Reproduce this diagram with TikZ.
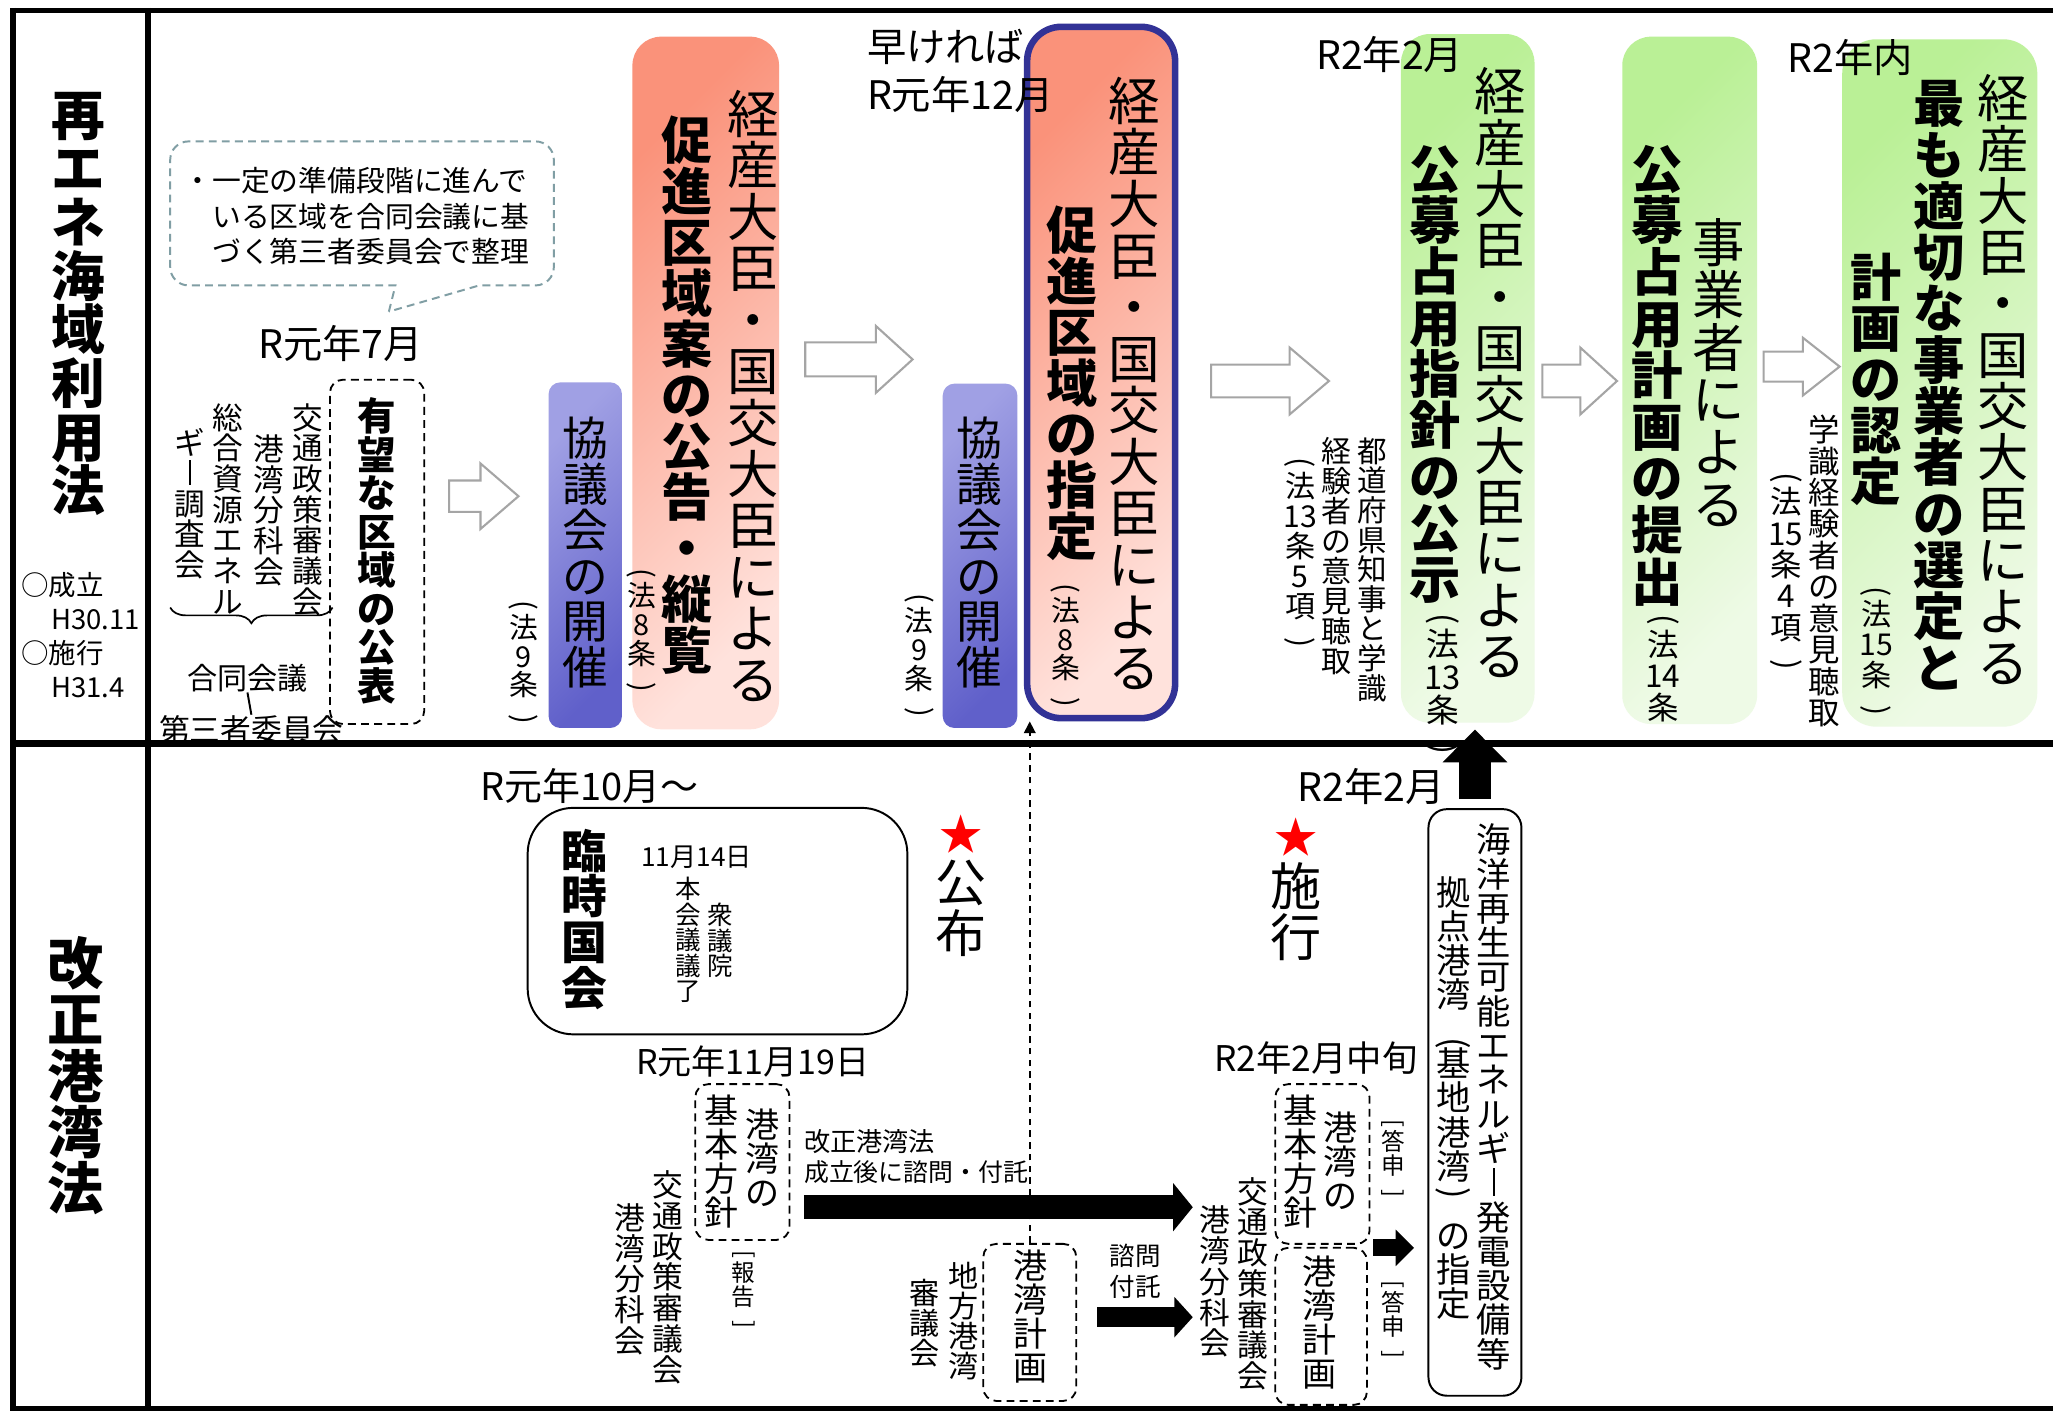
\documentclass[tikz,border=0pt]{standalone}
\usepackage{fontspec}
\setmainfont{Noto Sans CJK JP}
\usepackage{graphicx}
\usetikzlibrary{arrows.meta,decorations.pathreplacing,calc}

\definecolor{salA}{RGB}{250,146,122}
\definecolor{salB}{RGB}{255,226,220}
\definecolor{bluA}{RGB}{160,160,228}
\definecolor{bluB}{RGB}{96,96,202}
\definecolor{grnA}{RGB}{186,240,150}
\definecolor{grnB}{RGB}{238,250,230}
\definecolor{navy}{RGB}{50,50,150}
\definecolor{callgray}{RGB}{128,158,164}
\definecolor{arrgray}{RGB}{165,165,165}

\makeatletter
\def\vtend{\vtend}
\def\vt@lp{（}\def\vt@rp{）}\def\vt@lb{［}\def\vt@rb{］}\def\vt@bar{ー}
\newcommand\vt[1]{\baselineskip=0pt\lineskip=0pt\lineskiplimit=0pt\parindent=0pt\parskip=0pt\vt@first#1\vtend}
\def\vt@first#1{\vt@char{#1}\vt@loop}
\def\vt@loop#1{\ifx\vtend#1\expandafter\@gobble\else\expandafter\vt@sep\fi{#1}}
\def\vt@sep#1{\par\vt@char{#1}\vt@loop}
\def\vt@char#1{\def\vt@tmp{#1}%
  \ifx\vt@tmp\vt@lp \vt@half{\raisebox{-.12em}{\rotatebox[origin=c]{-90}{(}}}%
  \else\ifx\vt@tmp\vt@rp \vt@half{\raisebox{-.12em}{\rotatebox[origin=c]{-90}{)}}}%
  \else\ifx\vt@tmp\vt@lb \vt@half{\raisebox{-.12em}{\rotatebox[origin=c]{-90}{[}}}%
  \else\ifx\vt@tmp\vt@rb \vt@half{\raisebox{-.12em}{\rotatebox[origin=c]{-90}{]}}}%
  \else\ifx\vt@tmp\vt@bar \vt@full{\vrule width .07em height .80em depth .0em}%
  \else \vt@full{#1}\fi\fi\fi\fi\fi}
\def\vt@full#1{\leavevmode\vrule height .88em depth .12em width 0pt\relax\smash{#1}}
\def\vt@half#1{\leavevmode\vrule height .42em depth .08em width 0pt\relax\smash{#1}}
\makeatother
\newcommand\VLP{\raisebox{-.35em}{\rotatebox[origin=c]{-90}{(}}}
\newcommand\VRP{\raisebox{.30em}{\rotatebox[origin=c]{-90}{)}}}

\tikzset{
  vcol/.style={anchor=north, inner sep=0pt, text width=80pt, align=center},
  lbl/.style={inner sep=0pt},
  blueshade/.style={top color=bluA, bottom color=bluB, shading angle=45},
  salshade/.style={top color=salA, bottom color=salB, shading angle=45},
  grnshade/.style={top color=grnA, bottom color=grnB, shading angle=45},
  dbox/.style={draw=black, line width=1.4, dash pattern=on 6pt off 4pt, rounded corners=10, inner sep=0pt},
  harrowline/.style={draw=arrgray, fill=white, line width=1.6},
}
\newcommand\vcol[5][]{\node[vcol,font=\fontsize{#3}{#3}\selectfont#1] (#2) at #4 {\vt{#5}};}
\newcommand\hlab[5][]{\node[lbl,font=\fontsize{#3}{#3}\selectfont,#1] (#2) at #4 {#5};}
% x0, x1, yc, shaft half, head half, head length
\newcommand\harrow[6]{\draw[harrowline] (#1,#3-#4) -- (#2-#6,#3-#4) -- (#2-#6,#3-#5) -- (#2,#3) -- (#2-#6,#3+#5) -- (#2-#6,#3+#4) -- (#1,#3+#4) -- cycle;}

\begin{document}
\begin{tikzpicture}[x=1pt,y=-1pt]
\useasboundingbox (0,0) rectangle (1568,1078);
\fill[white] (0,0) rectangle (1568,1078);

% ---------------- upper panel boxes
\node[inner sep=0pt, rounded corners=9, blueshade, minimum width=56, minimum height=264] (kyo1) at (447,424) {};
\node[inner sep=0pt, rounded corners=22, salshade, minimum width=112, minimum height=529] (red2) at (539,292.5) {};
\node[inner sep=0pt, rounded corners=9, blueshade, minimum width=57, minimum height=263] (kyo2) at (748.5,424.5) {};
\node[inner sep=0pt, rounded corners=26, salshade, draw=navy, line width=5, minimum width=113, minimum height=528] (red3) at (841,284.5) {};
\node[inner sep=0pt, rounded corners=22, grnshade, minimum width=102, minimum height=526] (g4) at (1121,289) {};
\node[inner sep=0pt, rounded corners=22, grnshade, minimum width=103, minimum height=525] (g5) at (1290.5,290.5) {};
\node[inner sep=0pt, rounded corners=26, grnshade, minimum width=149, minimum height=525] (g6) at (1481.5,292.5) {};
\node[dbox, minimum width=72, minimum height=263] (yubo) at (288,421.5) {};

% callout
\draw[draw=callgray, line width=1.5, dash pattern=on 6pt off 4pt] (297,238) -- (302,218) [rounded corners=14] -- (130,218) -- (130,108) -- (423,108) -- (423,218) -- (395,218) [sharp corners] -- (366,218) -- cycle;
\node[lbl, anchor=west, align=left, font=\fontsize{22}{27}\selectfont] (callt) at (148,165)
  {\makebox[14pt][r]{・}一定の準備段階に進んで\\\hspace*{14pt}いる区域を合同会議に基\\\hspace*{14pt}づく第三者委員会で整理};

% left titles
\vcol[\bfseries]{t1}{41}{(60,67)}{再エネ海域利用法}
\hlab[anchor=west]{m1}{21}{(16,447)}{○成立}
\hlab[anchor=west]{m2}{21}{(39,473)}{H30.11}
\hlab[anchor=west]{m3}{21}{(16,499)}{○施行}
\hlab[anchor=west]{m4}{21}{(39,525)}{H31.4}

% R1 July group
\hlab{r7}{30}{(260,262)}{R元年7月}
\vcol{c1}{23.4}{(235,307)}{交通政策審議会}
\vcol{c2}{23.4}{(205,331)}{港湾分科会}
\vcol{c3}{23.4}{(174,307)}{総合資源エネル}
\vcol{c4}{23.4}{(145,326)}{ギー調査会}
\coordinate (brL) at (130,464);
\coordinate (brR) at (254,464);
\draw[line width=1.3, decorate, decoration={brace, mirror, amplitude=12}] (brL) -- (brR);
\hlab{goudou}{23}{(189,518)}{合同会議}
\hlab{daisan}{23.5}{(192,557)}{第三者委員会}
\draw[line width=1.5] (goudou.south) -- (daisan.north);
\vcol[\bfseries]{yubot}{29.4}{(288,303)}{有望な区域の公表}

% council 1 and red box 2
\vcol{kyo1t}{35}{(447,317)}{協議会の開催}
\vcol{kyo1l}{22}{(400,457)}{（法9条）}
\vcol{r2a}{39.3}{(575,67)}{経産大臣・国交大臣による}
\vcol[\bfseries]{r2b}{39}{(525,87)}{促進区域案の公告・縦覧}
\vcol{r2l}{22}{(490,433)}{（法8条）}

\hlab[anchor=west]{early}{30}{(662,36)}{早ければ}
\hlab[anchor=west]{r12}{30}{(662,72)}{R元年12月}

% council 2 and red box 3
\vcol{kyo2t}{35}{(748,317)}{協議会の開催}
\vcol{kyo2l}{22}{(702,452)}{（法9条）}
\vcol{r3a}{39.4}{(866,57)}{経産大臣・国交大臣による}
\vcol[\bfseries]{r3b}{39}{(819,156)}{促進区域の指定}
\vcol{r3l}{22}{(814,444)}{（法8条）}

% green 4
\vcol{g4a}{39.2}{(1146,50)}{経産大臣・国交大臣による}
\vcol[\bfseries]{g4b}{39.2}{(1096,109)}{公募占用指針の公示}
\vcol{g4l}{25}{(1102,467)}{（法{13}条）}
\vcol{g4n1}{22.6}{(1048,333)}{都道府県知事と学識}
\vcol{g4n2}{22.9}{(1021,333)}{経験者の意見聴取}
\vcol{g4n3}{23}{(993,348)}{（法{13}条5項）}
\hlab[anchor=west]{r2f}{30}{(1005,42)}{R2年2月}

% green 5
\vcol{g5a}{40}{(1313,165)}{事業者による}
\vcol[\bfseries]{g5b}{39.4}{(1266,109)}{公募占用計画の提出}
\vcol{g5l}{24}{(1270,468)}{（法{14}条）}

% green 6
\vcol{g6n1}{24}{(1393,316)}{学識経験者の意見聴取}
\vcol{g6n2}{24}{(1364,359)}{（法{15}条4項）}
\vcol{g6a}{39.2}{(1530,55)}{経産大臣・国交大臣による}
\vcol[\bfseries]{g6b}{39.2}{(1481,59)}{最も適切な事業者の選定と}
\vcol[\bfseries]{g6c}{39}{(1433,192)}{計画の認定}
\vcol{g6l}{23}{(1433,446)}{（法{15}条）}
\hlab[anchor=west]{r2n}{30}{(1365,44)}{R2年内}

% hollow arrows
\harrow{343}{396}{379}{12}{25}{29}
\harrow{615}{697}{274.5}{13}{25.5}{28}
\harrow{925}{1015}{291}{12.5}{25.5}{30}
\harrow{1178}{1235}{291}{12.5}{25.5}{28}
\harrow{1347}{1405}{280}{11.5}{22}{28}

% ---------------- lower panel
\vcol[\bfseries]{t2}{43}{(58,714)}{改正港湾法}
\hlab{r10}{29}{(450,600)}{R元年10月～}
\node[draw=black, line width=1.5, rounded corners=35, minimum width=290, minimum height=173, inner sep=0pt] (rinji) at (548,703.5) {};
\vcol[\bfseries]{rinjit}{35}{(446,632)}{臨時国会}
\hlab{d1114}{20}{(532,655)}{11月14日}
\vcol{hon}{19.5}{(526,669)}{本会議議了}
\vcol{shu}{19.5}{(550,689)}{衆議院}

\hlab[text=red]{star1}{33}{(734,637)}{★}
\vcol{kofu}{39}{(734,654)}{公布}
\hlab[text=red]{star2}{33}{(990,639)}{★}
\vcol{seko}{39}{(990,657)}{施行}

\hlab{r2b}{30}{(1047,601)}{R2年2月}
\node[draw=black, line width=1.5, rounded corners=14, minimum width=71, minimum height=448, inner sep=0pt] (tall) at (1126.5,842) {};
\vcol{tallA}{26.2}{(1141,628)}{海洋再生可能エネルギー発電設備等}
\vcol{tallB}{26.2}{(1110,668)}{拠点港湾\VLP 基地港湾\VRP の指定}

\hlab{r1119}{26}{(575,811)}{R元年11月19日}
\node[dbox, minimum width=72, minimum height=119] (kihon1) at (567,887.5) {};
\vcol{kihon1a}{26}{(582,846)}{港湾の}
\vcol{kihon1b}{26}{(551,835)}{基本方針}
\vcol{kotsu1}{23.5}{(510,893)}{交通政策審議会}
\vcol{bunka1}{23.5}{(481,918)}{港湾分科会}
\vcol{hokoku}{18}{(568,954)}{［報告］}
\hlab[anchor=west]{kaisei}{20}{(614,872)}{改正港湾法}
\hlab[anchor=west]{seiritsu}{19}{(614,895)}{成立後に諮問・付託}

\node[dbox, minimum width=71, minimum height=120] (keikaku1) at (786.5,1010) {};
\vcol{keikaku1t}{26}{(787,953)}{港湾計画}
\vcol{chiho}{23}{(736,963)}{地方港湾}
\vcol{shingi}{23}{(706,976)}{審議会}
\hlab{shimon}{19.5}{(867,959)}{諮問}
\hlab{futaku}{19.5}{(867,983)}{付託}

\hlab{r2mid}{27}{(1005,808)}{R2年2月中旬}
\node[dbox, minimum width=72, minimum height=122] (kihon2) at (1010,889) {};
\vcol{kihon2a}{26}{(1024,848)}{港湾の}
\vcol{kihon2b}{26}{(993,835)}{基本方針}
\vcol{kotsu2}{23.5}{(957,898)}{交通政策審議会}
\vcol{bunka2}{23.5}{(928,920)}{港湾分科会}
\node[dbox, minimum width=70, minimum height=120] (keikaku2) at (1009,1013) {};
\vcol{keikaku2t}{26}{(1008,958)}{港湾計画}
\vcol{toshin1}{18}{(1064,854)}{［答申］}
\vcol{toshin2}{18}{(1064,977)}{［答申］}

% black arrows
\coordinate (a1s) at (614,922);
\coordinate (a1e) at (911,922);
\draw[line width=18, -{Triangle[length=15pt,width=36pt]}] (a1s) -- (a1e);
\coordinate (a2s) at (838,1006);
\coordinate (a2e) at (911,1006);
\draw[line width=15, -{Triangle[length=14pt,width=30pt]}] (a2s) -- (a2e);
\coordinate (a3s) at (1049,953);
\coordinate (a3e) at (1080,953);
\draw[line width=13, -{Triangle[length=14pt,width=27pt]}] (a3s) -- (a3e);
\draw[line width=24, -{Triangle[length=25pt,width=48pt]}] ($(tall.north)+(0,-7)$) -- ($(tall.north |- g4.south)+(0,5)$);
\draw[line width=1.2, dash pattern=on 5pt off 4pt, -{Triangle[length=9pt,width=9pt]}] (keikaku1.north) -- (keikaku1.north |- red3.south);

% frame
\draw[line width=4] (10,8) -- (1568,8);
\draw[line width=4] (10,6) -- (10,1078);
\draw[line width=4] (113,6) -- (113,1078);
\draw[line width=5] (10,568) -- (1568,568);
\draw[line width=4] (10,1076) -- (1568,1076);
\end{tikzpicture}
\end{document}
